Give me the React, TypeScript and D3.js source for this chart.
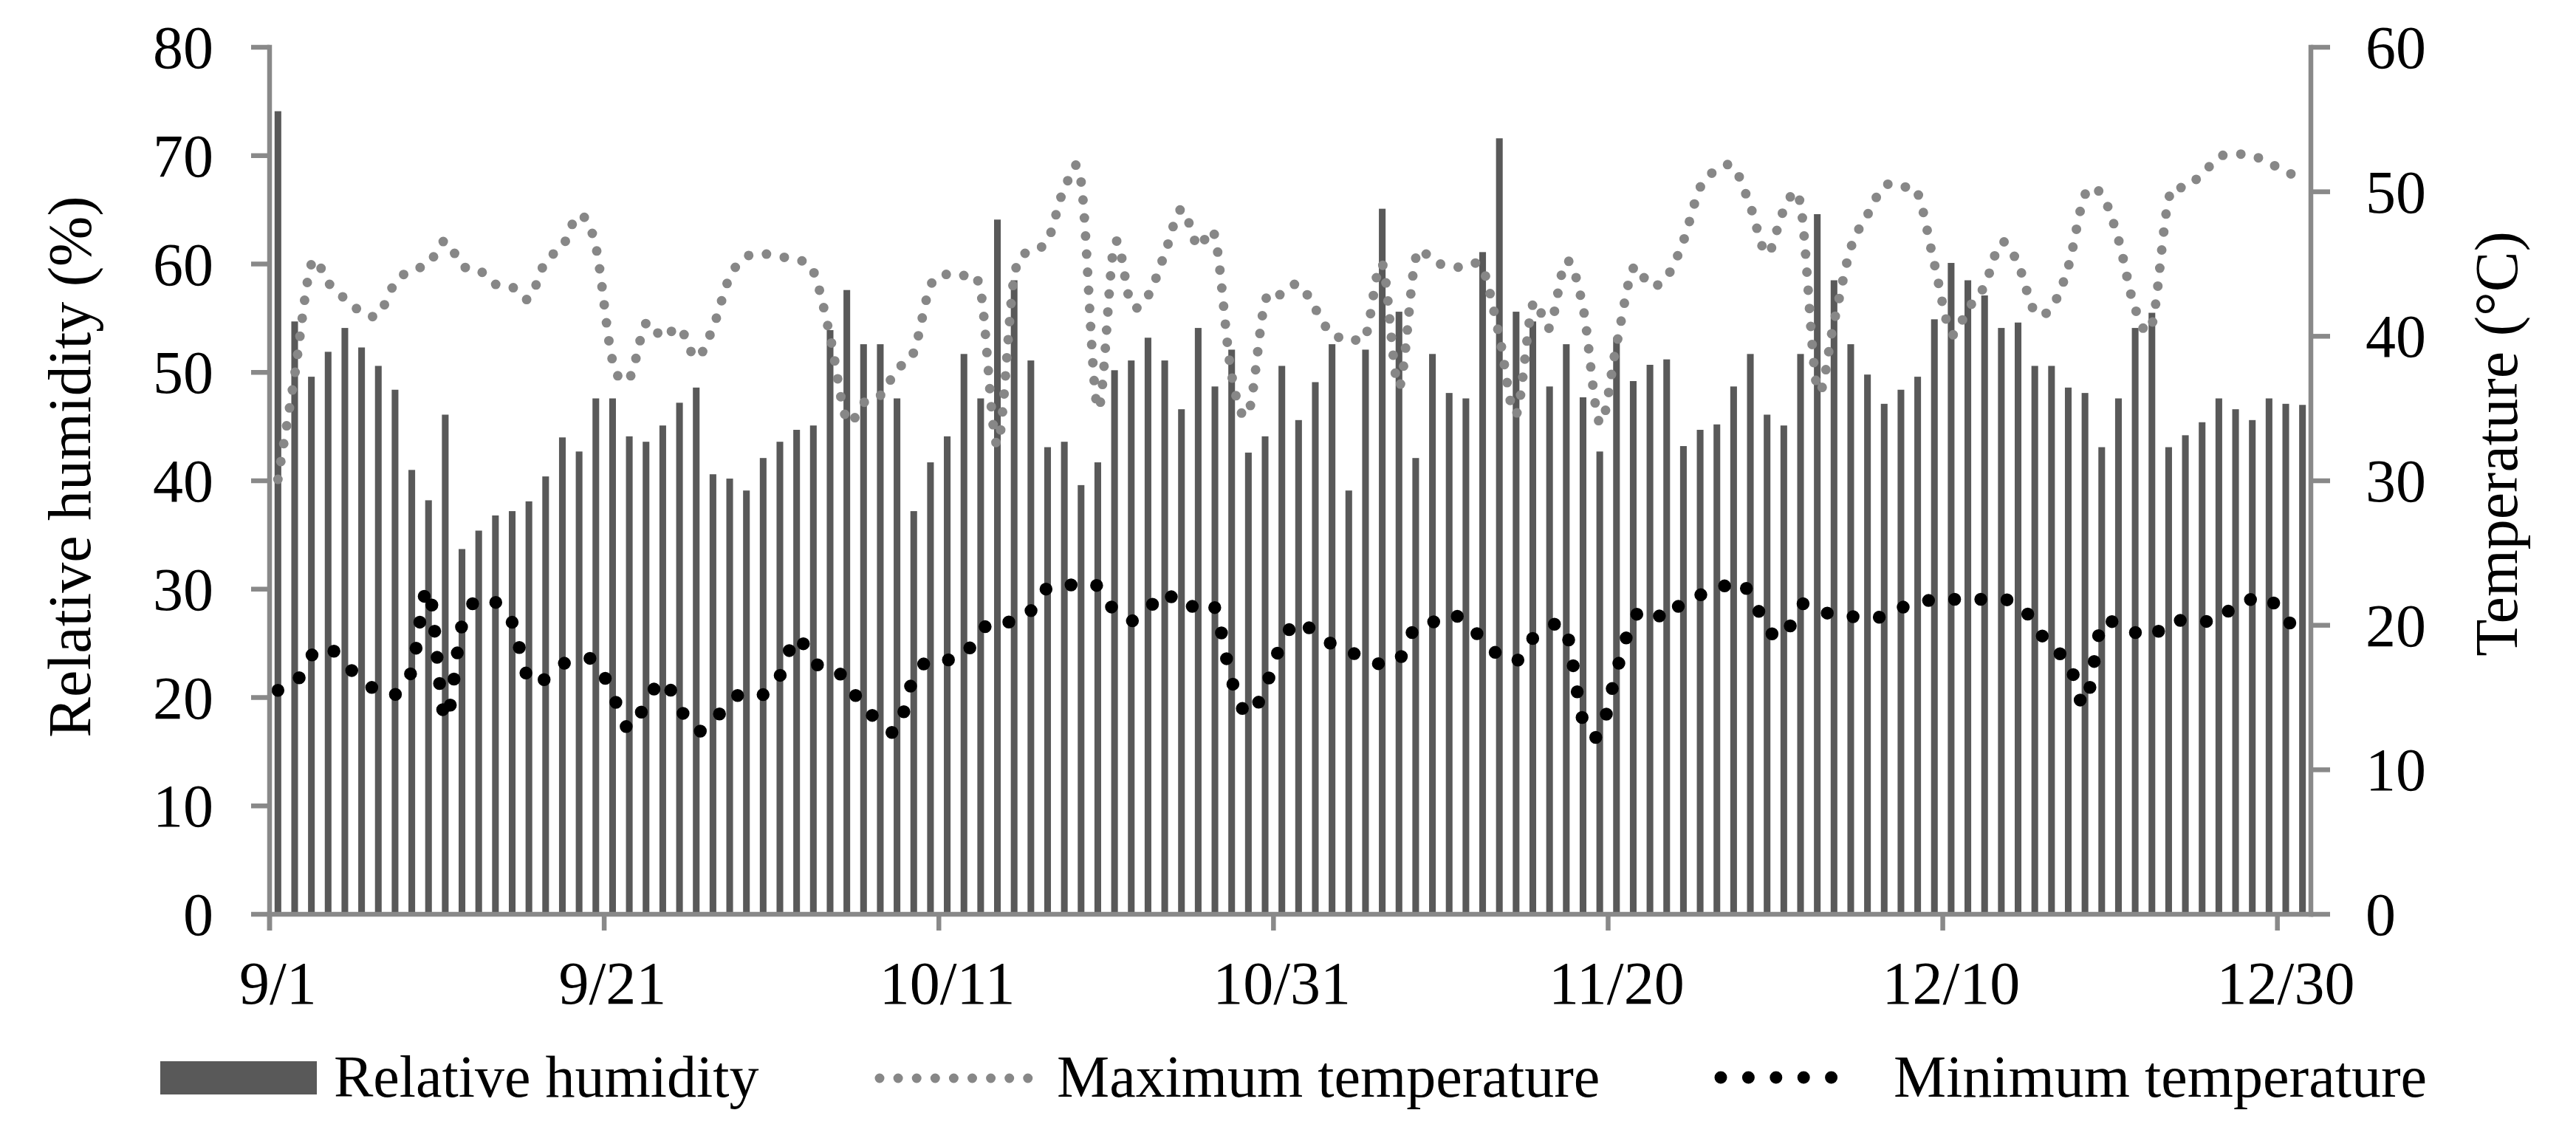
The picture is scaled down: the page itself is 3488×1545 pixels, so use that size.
import * as d3 from "d3";

// daily values, 9/1 - 12/31
const rhValues = [
  74.1, 54.7, 49.6, 51.9, 54.1, 52.3, 50.6, 48.4, 41.0, 38.2,
  46.1, 33.7, 35.4, 36.8, 37.2, 38.1, 40.4, 44.0, 42.7, 47.6,
  47.6, 44.1, 43.6, 45.1, 47.2, 48.6, 40.6, 40.2, 39.1, 42.1,
  43.6, 44.7, 45.1, 53.9, 57.6, 52.6, 52.6, 47.6, 37.2, 41.7,
  44.1, 51.7, 47.6, 64.1, 58.5, 51.1, 43.1, 43.6, 39.6, 41.7,
  50.2, 51.1, 53.2, 51.1, 46.6, 54.1, 48.7, 52.1, 42.6, 44.1,
  50.6, 45.6, 49.1, 52.6, 39.1, 52.1, 65.1, 55.6, 42.1, 51.7,
  48.1, 47.6, 61.1, 71.6, 55.6, 54.7, 48.7, 52.6, 47.7, 42.7,
  53.1, 49.2, 50.7, 51.2, 43.2, 44.7, 45.2, 48.7, 51.7, 46.1,
  45.1, 51.7, 64.6, 58.5, 52.6, 49.8, 47.1, 48.4, 49.6, 54.9,
  60.1, 58.5, 57.1, 54.1, 54.6, 50.6, 50.6, 48.6, 48.1, 43.1,
  47.6, 54.1, 55.5, 43.1, 44.2, 45.4, 47.6, 46.6, 45.6, 47.6,
  47.1, 47.0,
];

const maxTemp = [
  30.1, 37.3, 45.0, 43.7, 42.6, 41.7, 41.5, 43.7, 44.6, 45.0,
  46.6, 44.9, 44.6, 43.6, 43.4, 42.6, 45.2, 46.2, 48.4, 46.2,
  38.3, 37.1, 40.9, 39.9, 40.6, 38.5, 40.6, 44.1, 45.5, 45.7,
  45.5, 45.3, 44.5, 40.0, 34.2, 35.4, 35.9, 37.7, 38.9, 43.5,
  44.3, 44.2, 43.1, 32.5, 44.1, 45.9, 46.6, 50.2, 50.7, 35.0,
  46.4, 42.2, 42.8, 45.7, 48.8, 46.2, 46.9, 37.3, 34.7, 42.4,
  42.9, 43.6, 41.9, 40.1, 40.0, 40.0, 45.0, 36.5, 45.4, 45.2,
  44.8, 44.8, 44.7, 40.0, 34.6, 42.2, 40.6, 45.2, 42.0, 34.0,
  39.4, 44.7, 43.5, 44.1, 46.6, 50.3, 51.5, 51.7, 49.0, 45.7,
  48.7, 49.1, 36.4, 41.0, 46.1, 48.4, 50.4, 50.3, 49.9, 45.0,
  40.2, 41.9, 43.5, 46.5, 45.0, 41.7, 42.0, 44.8, 49.8, 49.8,
  46.7, 41.9, 40.8, 49.5, 50.3, 51.2, 52.4, 52.6, 52.5, 52.0,
  51.4, 50.9,
];

const minTemp = [
  15.5, 15.9, 17.9, 18.5, 17.3, 16.3, 15.4, 15.2, 16.9, 22.5,
  13.5, 20.0, 21.8, 21.6, 20.2, 16.2, 16.3, 17.3, 17.6, 17.5,
  15.2, 12.8, 14.6, 16.2, 14.3, 12.7, 13.3, 14.8, 15.3, 15.2,
  16.5, 19.2, 17.4, 17.2, 16.1, 14.3, 13.4, 12.7, 16.4, 17.6,
  17.6, 17.9, 19.6, 20.4, 20.2, 21.0, 22.6, 22.7, 22.9, 22.7,
  21.0, 20.3, 21.1, 22.3, 21.2, 21.4, 21.2, 16.2, 13.8, 15.7,
  18.8, 20.3, 19.4, 18.7, 18.2, 17.7, 17.3, 17.6, 19.9, 20.2,
  20.8, 20.2, 19.0, 17.9, 17.5, 19.1, 19.9, 19.6, 13.4, 12.5,
  16.8, 20.4, 21.1, 20.4, 21.7, 22.1, 22.3, 23.1, 22.2, 19.8,
  19.2, 21.4, 21.1, 20.7, 20.6, 20.6, 20.6, 21.2, 21.5, 21.8,
  21.8, 21.8, 21.8, 21.8, 21.5, 20.1, 18.3, 17.6, 14.5, 20.1,
  19.9, 19.5, 19.2, 20.3, 20.3, 20.3, 20.3, 21.5, 21.8, 21.9,
  20.3, 20.1,
];

const dates = d3
  .timeDay.range(new Date(2020, 8, 1), new Date(2021, 0, 1))
  .map(d3.timeFormat("%-m/%-d"));

const dateTicks = ["9/1", "9/21", "10/11", "10/31", "11/20", "12/10", "12/30"];
const rhTicks = [0, 10, 20, 30, 40, 50, 60, 70, 80];
const tempTicks = [0, 10, 20, 30, 40, 50, 60];

const FONT = '"Liberation Serif", "Times New Roman", serif';
const AXIS = "#898989";
const BAR = "#595959";
const MAXC = "#878787";

const App = () => {
  const width = 3488;
  const height = 1545;
  const m = { left: 365, right: 3129, top: 64, bottom: 1238 };
  const aw = 6.5;

  const x = d3
    .scaleBand<string>()
    .domain(dates)
    .range([m.left, m.right])
    .paddingInner(0.6)
    .paddingOuter(0.3);

  const yRh = d3.scaleLinear().domain([0, 80]).range([m.bottom, m.top]);
  const yT = d3.scaleLinear().domain([0, 60]).range([m.bottom, m.top]);

  const cx = (i: number) => (x(dates[i]) ?? 0) + x.bandwidth() / 2;
  const edge = (d: string) => (x(d) ?? 0) - x.step() * x.paddingOuter();

  const line = d3
    .line<number>()
    .x((_, i) => cx(i))
    .y((d) => yT(d))
    .curve(d3.curveCardinal.tension(0));

  const boundaryTicks = dates.filter((_, i) => i % 20 === 0);

  return (
    <svg
      width={width}
      height={height}
      style={{ position: "absolute", left: 0, top: 0, display: "block", background: "#fff" }}
      fontFamily={FONT}
    >
      {/* bars */}
      <g fill={BAR}>
        {rhValues.map((v, i) => (
          <rect
            key={i}
            x={x(dates[i])}
            y={yRh(v)}
            width={x.bandwidth()}
            height={m.bottom - yRh(v)}
          />
        ))}
      </g>

      {/* temperature lines */}
      <path
        d={line(maxTemp) ?? ""}
        fill="none"
        stroke={MAXC}
        strokeWidth={13}
        strokeLinecap="round"
        strokeDasharray="0 24.5"
      />
      <path
        d={line(minTemp) ?? ""}
        fill="none"
        stroke="#000"
        strokeWidth={17.5}
        strokeLinecap="round"
        strokeDasharray="0 35.5"
      />

      {/* left axis */}
      <g stroke={AXIS} strokeWidth={aw}>
        <line x1={m.left} x2={m.left} y1={m.top - aw / 2} y2={m.bottom + 22} />
        {rhTicks.map((t) => (
          <line key={t} x1={m.left - 25} x2={m.left} y1={yRh(t)} y2={yRh(t)} />
        ))}
      </g>
      <g fontSize={82} textAnchor="end" fill="#000">
        {rhTicks.map((t) => (
          <text key={t} x={289} y={yRh(t) + 28}>
            {t}
          </text>
        ))}
      </g>

      {/* right axis */}
      <g stroke={AXIS} strokeWidth={aw}>
        <line x1={m.right} x2={m.right} y1={m.top - aw / 2} y2={m.bottom + aw / 2} />
        {tempTicks.map((t) => (
          <line key={t} x1={m.right} x2={m.right + 26} y1={yT(t)} y2={yT(t)} />
        ))}
      </g>
      <g fontSize={82} textAnchor="start" fill="#000">
        {tempTicks.map((t) => (
          <text key={t} x={3203} y={yT(t) + 28}>
            {t}
          </text>
        ))}
      </g>

      {/* x axis */}
      <g stroke={AXIS} strokeWidth={aw}>
        <line x1={m.left - aw / 2} x2={m.right + aw / 2} y1={m.bottom} y2={m.bottom} />
        {boundaryTicks.map((d) => (
          <line key={d} x1={edge(d)} x2={edge(d)} y1={m.bottom} y2={m.bottom + 22} />
        ))}
      </g>
      <g fontSize={82} textAnchor="middle" fill="#000">
        {dateTicks.map((d) => (
          <text key={d} x={(x(d) ?? 0) + x.bandwidth() / 2} y={1359}>
            {d}
          </text>
        ))}
      </g>

      {/* axis titles */}
      <text
        transform="translate(122,632) rotate(-90)"
        textAnchor="middle"
        fontSize={82}
        fill="#000"
      >
        Relative humidity (%)
      </text>
      <text
        transform="translate(3408,601) rotate(-90)"
        textAnchor="middle"
        fontSize={82}
        fill="#000"
      >
        Temperature (°C)
      </text>

      {/* legend */}
      <g fontSize={80} fill="#000">
        <rect x={217} y={1437} width={212} height={45} fill={BAR} />
        <text x={452} y={1485}>Relative humidity</text>
        <line
          x1={1191}
          x2={1392}
          y1={1460}
          y2={1460}
          stroke={MAXC}
          strokeWidth={13}
          strokeLinecap="round"
          strokeDasharray="0 25.1"
        />
        <text x={1431} y={1485}>Maximum temperature</text>
        <line
          x1={2330}
          x2={2517}
          y1={1459}
          y2={1459}
          stroke="#000"
          strokeWidth={17}
          strokeLinecap="round"
          strokeDasharray="0 37.4"
        />
        <text x={2564} y={1485}>Minimum temperature</text>
      </g>
    </svg>
  );
};

export default App;
